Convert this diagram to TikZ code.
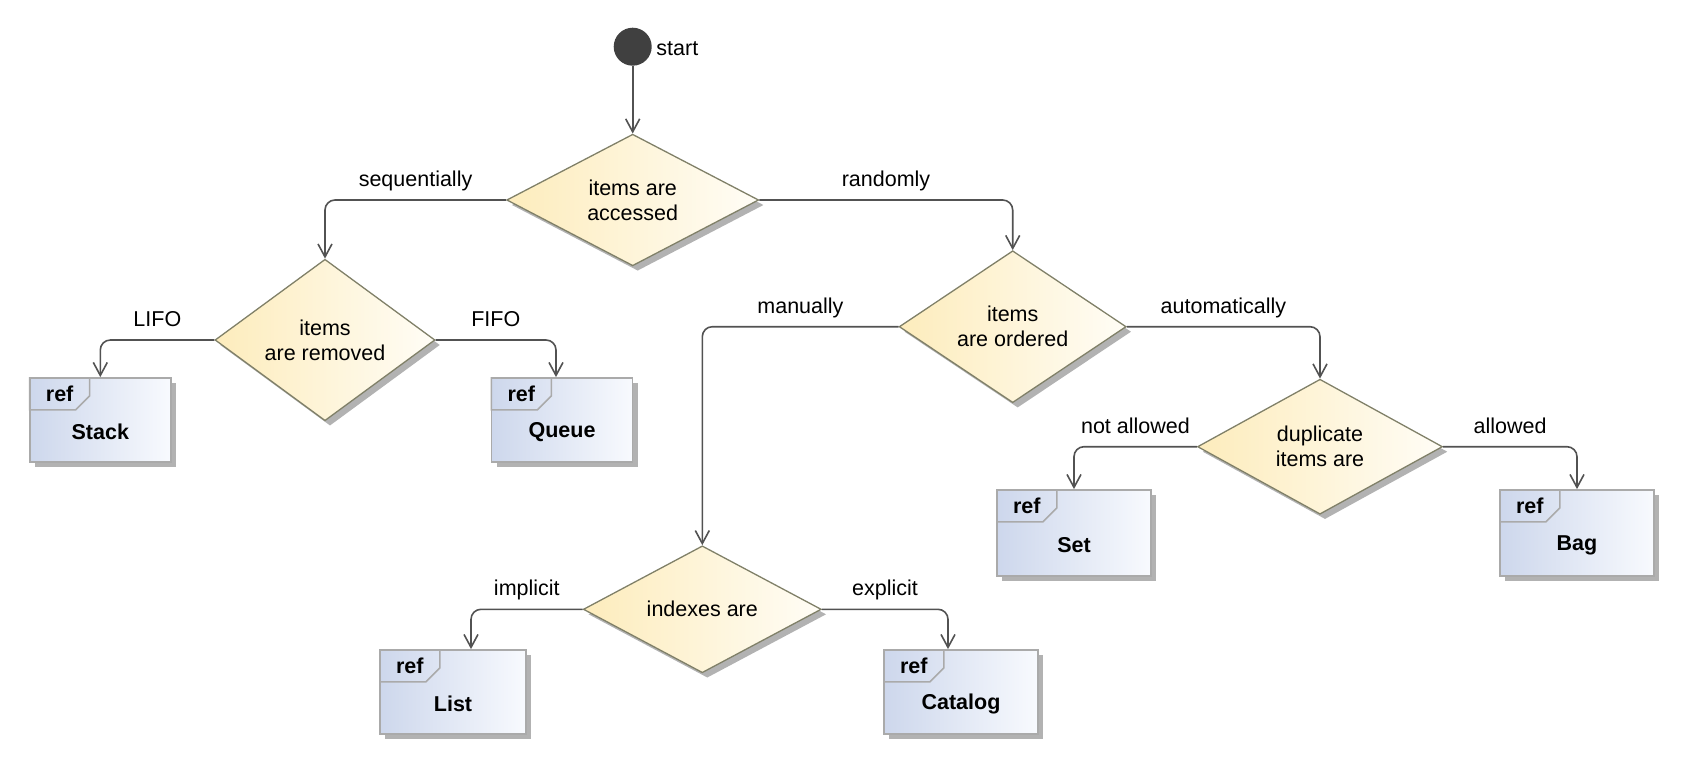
\documentclass[tikz,border=0pt]{standalone}
\usepackage{fontspec}
\setmainfont{Liberation Sans}
\usetikzlibrary{shapes.geometric, shapes.misc, shadows, arrows.meta}

\definecolor{decfill}{RGB}{253,236,188}
\definecolor{decfade}{RGB}{255,253,246}
\definecolor{decline}{RGB}{128,128,104}
\definecolor{reffill}{RGB}{205,215,236}
\definecolor{reffade}{RGB}{248,250,254}
\definecolor{refline}{RGB}{170,170,170}
\definecolor{shadowgray}{RGB}{178,178,178}
\definecolor{flowline}{RGB}{82,82,82}
\definecolor{initfill}{RGB}{64,64,64}

\newcommand{\diagfont}{\fontsize{21.5}{25}\selectfont}

\tikzstyle{init} = [circle, fill=initfill, minimum size=38pt, inner sep=0pt]
\tikzstyle{dec} = [diamond, draw=decline, line width=1.3pt, inner sep=0pt,
                   left color=decfill, right color=decfade, align=center,
                   drop shadow={shadow xshift=5pt, shadow yshift=-5pt,
                                fill=shadowgray, opacity=1}]
\tikzstyle{refbox} = [rectangle, draw=refline, line width=1.8pt,
                      left color=reffill, right color=reffade,
                      drop shadow={shadow xshift=5pt, shadow yshift=-5pt,
                                   fill=shadowgray, opacity=1}]
\tikzstyle{reftab} = [chamfered rectangle, chamfered rectangle corners=south east,
                      chamfered rectangle xsep=7pt, chamfered rectangle ysep=7pt,
                      draw=refline, line width=1.5pt, anchor=north west,
                      minimum width=60pt, minimum height=32pt, inner sep=0pt,
                      font=\diagfont\bfseries]
\tikzstyle{refname} = [font=\diagfont\bfseries, yshift=-12pt]
\tikzstyle{flow} = [-{Straight Barb[length=13pt, width=14pt]}, draw=flowline,
                    line width=1.6pt, rounded corners=10pt]
\tikzstyle{flow-label} = [pos=0.25, anchor=base, yshift=13.5pt]

\begin{document}
\begin{tikzpicture}[x=1pt, y=-1pt, font=\diagfont]
  \useasboundingbox (0,0) rectangle (1684,766);

  %% Decisions
  \node (start) [init, label={[label distance=1pt, yshift=-2pt]right:start}] at (632.7,46.7) {};
  \node (acc) [dec, minimum width=252pt, minimum height=121pt] at (632.7,200) {items are\\ accessed};
  \node (rem) [dec, minimum width=220pt, minimum height=117pt] at (325,340) {items\\ are removed};
  \node (ord) [dec, minimum width=227pt, minimum height=130pt] at (1012.7,326.7) {items\\ are ordered};
  \node (dup) [dec, minimum width=245pt, minimum height=135pt] at (1320,446.7) {duplicate\\ items are};
  \node (idx) [dec, minimum width=238pt, minimum height=97pt] at (702.3,609.3) {indexes are};

  %% Referenced collections
  \node (stack) [refbox, minimum width=141pt, minimum height=84pt] at (100.3,420) {};
  \node [reftab] at (stack.north west) {ref};
  \node [refname] at (stack.center) {Stack};

  \node (queue) [refbox, minimum width=141pt, minimum height=84pt] at (562,420) {};
  \node [reftab] at (queue.north west) {ref};
  \node [refname] at (queue.center) {Queue};

  \node (set) [refbox, minimum width=154pt, minimum height=86pt] at (1074,533) {};
  \node [reftab] at (set.north west) {ref};
  \node [refname] at (set.center) {Set};

  \node (bag) [refbox, minimum width=154pt, minimum height=86pt] at (1577,533) {};
  \node [reftab] at (bag.north west) {ref};
  \node [refname] at (bag.center) {Bag};

  \node (list) [refbox, minimum width=146pt, minimum height=84pt] at (453,692) {};
  \node [reftab] at (list.north west) {ref};
  \node [refname] at (list.center) {List};

  \node (catalog) [refbox, minimum width=154pt, minimum height=84pt] at (961,692) {};
  \node [reftab] at (catalog.north west) {ref};
  \node [refname] at (catalog.center) {Catalog};

  %% Flows
  \draw [flow] (start) -- (acc);
  \draw [flow] (acc.west) -| (rem.north) node [flow-label] {sequentially};
  \draw [flow] (acc.east) -| (ord.north) node [flow-label] {randomly};

  \draw [flow] (rem.west) -| (stack.north) node [flow-label] {LIFO};
  \draw [flow] (rem.east) -| ([xshift=-6pt]queue.north) node [flow-label] {FIFO};

  \draw [flow] (ord.west) -| (idx.north) node [flow-label] {manually};
  \draw [flow] (ord.east) -| (dup.north) node [flow-label] {automatically};

  \draw [flow] (dup.west) -| (set.north) node [flow-label] {not allowed};
  \draw [flow] (dup.east) -| (bag.north) node [flow-label] {allowed};

  \draw [flow] (idx.west) -| ([xshift=18pt]list.north) node [flow-label] {implicit};
  \draw [flow] (idx.east) -| ([xshift=-13pt]catalog.north) node [flow-label] {explicit};

\end{tikzpicture}
\end{document}
